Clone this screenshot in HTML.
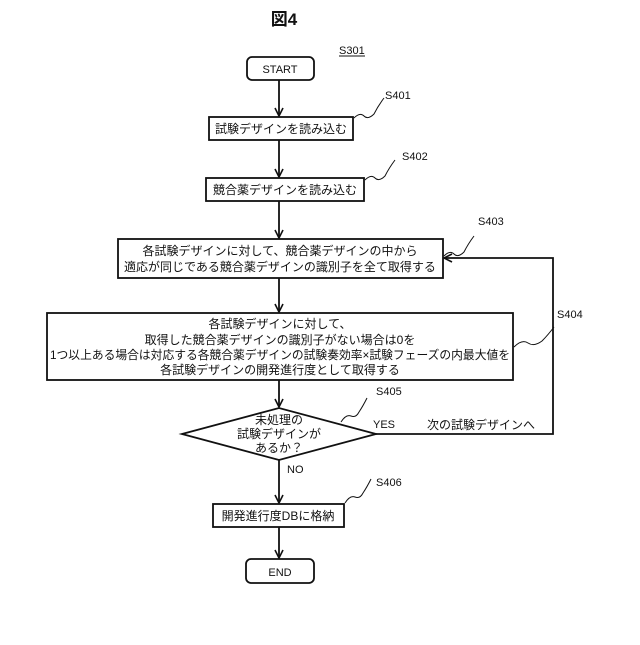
<!DOCTYPE html>
<html><head><meta charset="utf-8"><style>
body{margin:0;background:#fff;}
svg text{font-family:"Liberation Sans","Noto Sans CJK JP",sans-serif;fill:#111;}
</style></head><body>
<svg width="640" height="640" viewBox="0 0 640 640" xmlns="http://www.w3.org/2000/svg">
<defs><marker id="a" markerWidth="10" markerHeight="10" refX="9" refY="5" orient="auto" markerUnits="userSpaceOnUse"><path d="M1,1 L9,5 L1,9" fill="none" stroke="#111" stroke-width="1.6"/></marker></defs>
<g stroke="#111" stroke-width="1.8" fill="none">
<rect x="247" y="57" width="67" height="23" rx="5"/>
<rect x="209" y="117" width="144" height="23"/>
<rect x="206" y="178" width="158" height="23"/>
<rect x="118" y="239" width="325" height="39"/>
<rect x="47" y="313" width="466" height="67"/>
<polygon points="182,434 279,408 376,434 279,460"/>
<rect x="213" y="504" width="131" height="23"/>
<rect x="246" y="559" width="68" height="24" rx="5"/>
<line x1="279" y1="80" x2="279" y2="116" marker-end="url(#a)"/>
<line x1="279" y1="140" x2="279" y2="177" marker-end="url(#a)"/>
<line x1="279" y1="201" x2="279" y2="238" marker-end="url(#a)"/>
<line x1="279" y1="278" x2="279" y2="312" marker-end="url(#a)"/>
<line x1="279" y1="380" x2="279" y2="407" marker-end="url(#a)"/>
<line x1="279" y1="460" x2="279" y2="503" marker-end="url(#a)"/>
<line x1="279" y1="527" x2="279" y2="558" marker-end="url(#a)"/>
<polyline points="376,434 553,434 553,258 444,258" marker-end="url(#a)"/>
<g stroke-width="1">
<path d="M354,118 q6,-6 10,-2 t10,-2 q4,-8 10,-16"/>
<path d="M365,180 q6,-6 10,-2 t10,-2 q4,-8 10,-16"/>
<path d="M444,256 q6,-6 10,-2 t10,-2 q4,-8 10,-16"/>
<path d="M514,347 q8,-8 14,-4 t14,-2 q6,-6 12,-14"/>
<path d="M341,422 q5,-8 10,-6 t8,-4 q4,-6 8,-14"/>
<path d="M345,503 q5,-8 10,-6 t8,-4 q4,-6 8,-14"/>
</g>
<line x1="339" y1="56" x2="365" y2="56" stroke-width="1"/>
</g>
<text x="284" y="25" font-size="17" font-weight="bold" text-anchor="middle">図4</text>
<text x="339" y="54" font-size="11">S301</text>
<text x="280" y="73" font-size="11" text-anchor="middle">START</text>
<text x="385" y="99" font-size="11">S401</text>
<text x="281" y="133" font-size="12" text-anchor="middle">試験デザインを読み込む</text>
<text x="402" y="160" font-size="11">S402</text>
<text x="285" y="194" font-size="12" text-anchor="middle">競合薬デザインを読み込む</text>
<text x="478" y="225" font-size="11">S403</text>
<text x="280" y="255" font-size="12" text-anchor="middle">各試験デザインに対して、競合薬デザインの中から</text>
<text x="280" y="271" font-size="12" text-anchor="middle">適応が同じである競合薬デザインの識別子を全て取得する</text>
<text x="557" y="318" font-size="11">S404</text>
<text x="280" y="328" font-size="12" text-anchor="middle">各試験デザインに対して、</text>
<text x="280" y="344" font-size="12" text-anchor="middle">取得した競合薬デザインの識別子がない場合は0を</text>
<text x="280" y="359" font-size="12" text-anchor="middle" textLength="460" lengthAdjust="spacingAndGlyphs">1つ以上ある場合は対応する各競合薬デザインの試験奏効率×試験フェーズの内最大値を</text>
<text x="280" y="374" font-size="12" text-anchor="middle">各試験デザインの開発進行度として取得する</text>
<text x="376" y="395" font-size="11">S405</text>
<text x="279" y="424" font-size="12" text-anchor="middle">未処理の</text>
<text x="279" y="438" font-size="12" text-anchor="middle">試験デザインが</text>
<text x="279" y="452" font-size="12" text-anchor="middle">あるか？</text>
<text x="373" y="428" font-size="11">YES</text>
<text x="427" y="429" font-size="12">次の試験デザインへ</text>
<text x="287" y="473" font-size="11">NO</text>
<text x="376" y="486" font-size="11">S406</text>
<text x="278" y="520" font-size="12" text-anchor="middle">開発進行度DBに格納</text>
<text x="280" y="576" font-size="11" text-anchor="middle">END</text>
</svg>
</body></html>
